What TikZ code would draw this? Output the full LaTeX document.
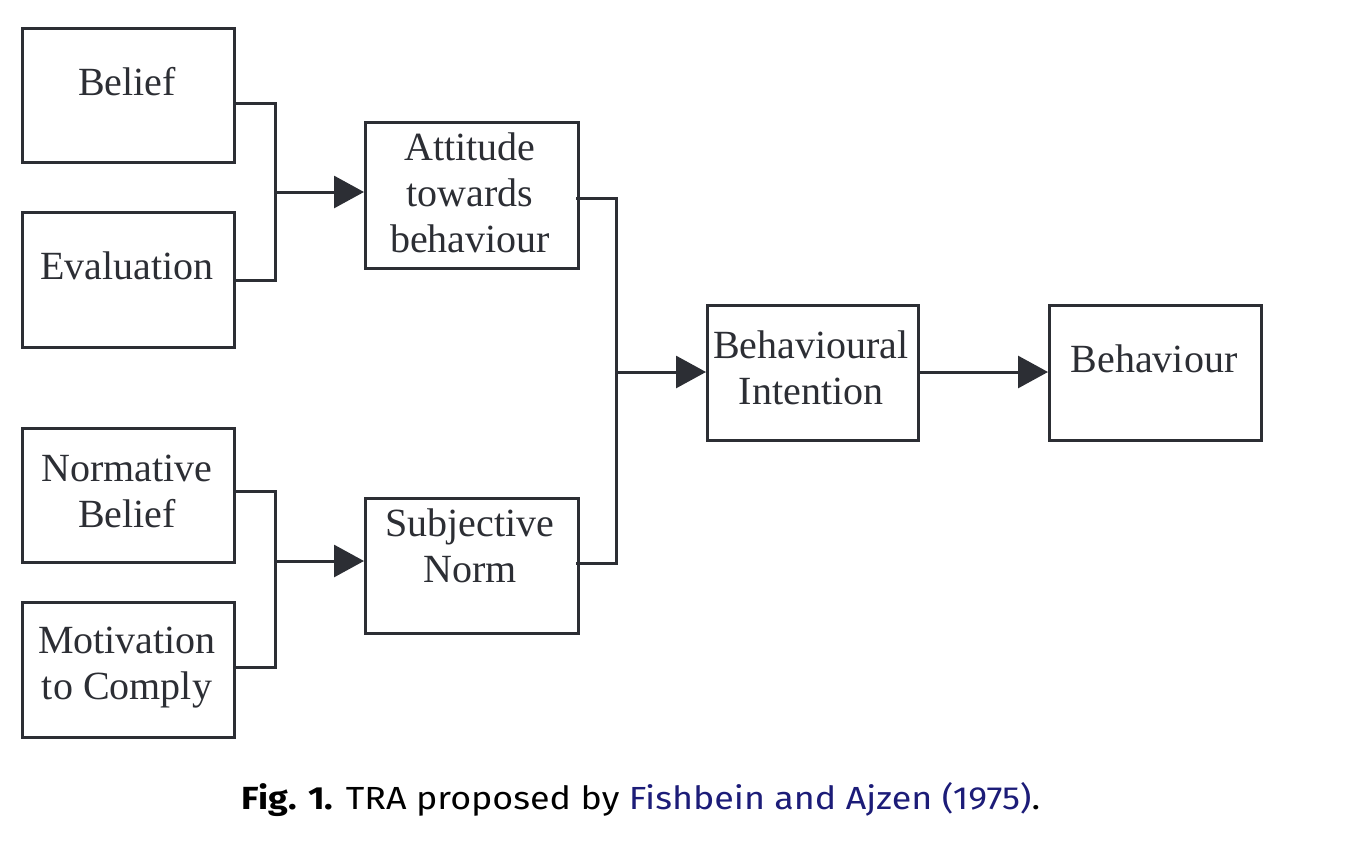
\documentclass[tikz,border=0pt]{standalone}
\usepackage{fontspec}
\setmainfont{Liberation Serif}
\newfontfamily\capfont[FakeStretch=1.12,Numbers=Lining]{Fira Sans}
\usetikzlibrary{arrows.meta}
\definecolor{ink}{RGB}{44,46,52}
\definecolor{linkblue}{RGB}{28,28,120}
\begin{document}
\begin{tikzpicture}[x=1pt,y=-1pt,
  box/.style={draw=ink,line width=3.2pt,inner sep=0pt,anchor=north west},
  lbl/.style={align=center,text=ink,inner sep=0pt,font=\fontsize{40}{46}\selectfont},
  link/.style={draw=ink,line width=3pt},
  arr/.style={link,-{Triangle[length=30pt,width=32pt]}}]
\useasboundingbox (0,0) rectangle (1352,841);
% boxes
\node[box,minimum width=212pt,minimum height=134pt] (bel) at (21,27) {};
\node[box,minimum width=212pt,minimum height=135pt] (eva) at (21,211) {};
\node[box,minimum width=212pt,minimum height=134pt] (nbel) at (21,427) {};
\node[box,minimum width=212pt,minimum height=135pt] (mot) at (21,601) {};
\node[box,minimum width=213pt,minimum height=146pt] (att) at (364,121) {};
\node[box,minimum width=213pt,minimum height=135pt] (sub) at (364,497) {};
\node[box,minimum width=211pt,minimum height=135pt] (bi) at (706,304) {};
\node[box,minimum width=212pt,minimum height=135pt] (beh) at (1048,304) {};
% texts (anchored on the baseline of the last line)
\node[lbl,anchor=base] (belt) at (127,95) {Belief};
\node[lbl,anchor=base] (evat) at (127,279) {Evaluation};
\node[lbl,anchor=base] (nbelt) at (127,527) {Normative\\Belief};
\node[lbl,anchor=base] (mott) at (127,699) {Motivation\\to Comply};
\node[lbl,anchor=base] (attt) at (470,252) {Attitude\\towards\\behaviour};
\node[lbl,anchor=base] (subt) at (470,582) {Subjective\\Norm};
\node[lbl,anchor=base] (bit) at (811,404) {Behavioural\\Intention};
\node[lbl,anchor=base] (beht) at (1154,372) {Behaviour};
% junction points
\coordinate (ja) at (275,192);
\coordinate (jb) at (275,561);
\coordinate (jc) at (616,372);
% connectors
\draw[link] ([yshift=-8pt]bel.east) -| (ja) |- (eva.east);
\draw[arr] (ja) -- (ja -| att.west);
\draw[link] ([yshift=4pt]nbel.east) -| (jb) |- ([yshift=3pt]mot.east);
\draw[arr] (jb) -- (jb -| sub.west);
\draw[link] ([xshift=-4pt,yshift=-3pt]att.east) -| (jc) |- ([xshift=-4pt,yshift=3pt]sub.east);
\draw[arr] (jc) -- (jc -| bi.west);
\draw[arr] (bi.east |- jc) -- (beh.west |- jc);
% caption
\node[anchor=base,inner sep=0pt,font=\capfont\fontsize{32}{36}\selectfont] (cap) at (641,809)
  {\textbf{Fig. 1.} TRA proposed by \textcolor{linkblue}{Fishbein and Ajzen (1975)}.};
\end{tikzpicture}
\end{document}
